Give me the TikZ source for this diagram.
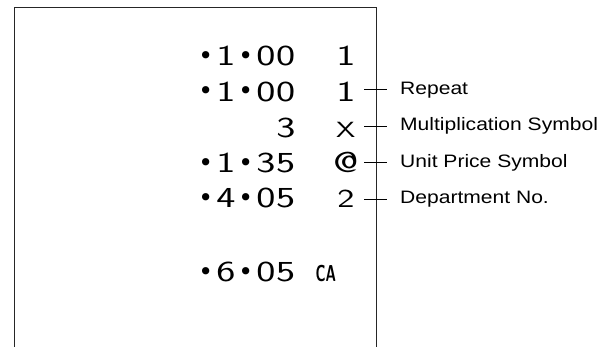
\documentclass[tikz,border=0pt]{standalone}
\usepackage{fontspec}
\usepackage{graphicx}
\newfontfamily\rcpt{lmsans17-regular.otf}[FakeStretch=1.4]
\newfontfamily\bulfont{DejaVu Sans}
\newfontfamily\labfont{Liberation Sans}[FakeStretch=1.17]
\newcommand\bul{\raisebox{1.5pt}{\bulfont\fontsize{25}{25}\selectfont •}}
\makeatletter
\newcommand\cells[1]{\cells@a#1\@nil}
\def\cells@a#1{\ifx#1\@nil\else\makebox[20pt]{#1}\expandafter\cells@a\fi}
\makeatother
\begin{document}
\begin{tikzpicture}[x=1pt,y=-1pt,
  paper/.style={line width=1.3pt, draw=black!85},
  amt/.style={anchor=base east, inner sep=0pt, font=\rcpt\fontsize{29}{29}\selectfont},
  sym/.style={amt},
  lab/.style={anchor=base west, inner sep=0pt, text height=9.6pt, text depth=0pt,
    font=\labfont\fontsize{18}{18}\selectfont},
  tick/.style={draw, line width=1pt, shorten <=8pt, shorten >=13pt}]
\useasboundingbox (0,0) rectangle (613,347);
\coordinate (pbl) at (14.7,347);
\coordinate (ptl) at (14.7,7.3);
\coordinate (ptr) at (376.7,7.3);
\coordinate (pbr) at (376.7,347);
\draw[paper] (pbl) -- (ptl) -- (ptr) -- (pbr);

\node[amt] (a1) at (296,66) {\cells{\bul1\bul00}};
\node[sym] (s1) at (356,66) {\cells{1}};
\node[amt] (a2) at (296,101.5) {\cells{\bul1\bul00}};
\node[sym] (s2) at (356,101.5) {\cells{1}};
\node[amt] (a3) at (296,137.5) {\cells{3}};
\node[sym] (s3) at (356,137.5) {\makebox[20pt]{\fontsize{22}{22}\selectfont X}};
\node[amt] (a4) at (296,173) {\cells{\bul1\bul35}};
\node[sym] (s4) at (356,173) {\cells{@}};
\node[amt] (a5) at (296,208) {\cells{\bul4\bul05}};
\node[sym] (s5) at (356,208) {\makebox[20pt]{\fontsize{26}{26}\selectfont 2}};
\node[amt] (a7) at (296,281.5) {\cells{\bul6\bul05}};
\node[sym] (s7) at (336,281.5) {\makebox[20pt]{\sffamily\bfseries\fontsize{23}{23}\selectfont\scalebox{0.62}[1]{CA}}};

\node[lab] (l2) at (400,94.5) {Repeat};
\node[lab] (l3) at (400,131) {Multiplication Symbol};
\node[lab] (l4) at (400,167.5) {Unit Price Symbol};
\node[lab] (l5) at (400,204) {Department No.};

\draw[tick] (l2.west -| s2.east) -- (l2.west);
\draw[tick] (l3.west -| s3.east) -- (l3.west);
\draw[tick] (l4.west -| s4.east) -- (l4.west);
\draw[tick] (l5.west -| s5.east) -- (l5.west);
\end{tikzpicture}
\end{document}
